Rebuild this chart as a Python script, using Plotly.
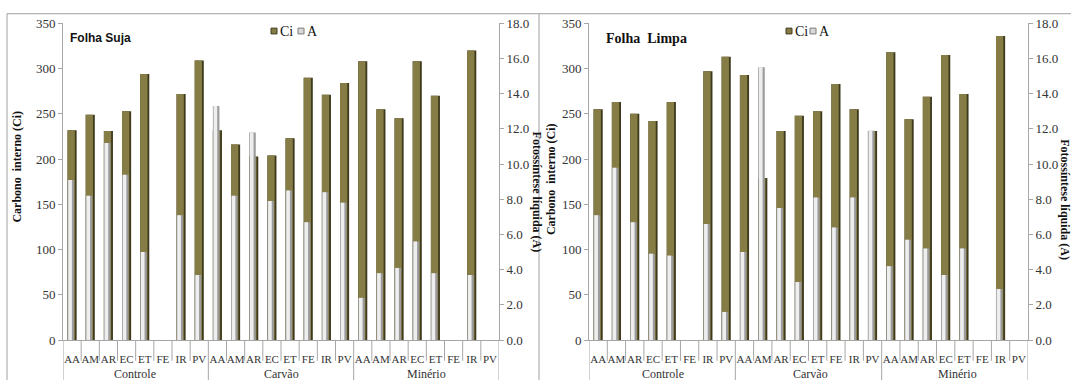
import plotly.graph_objects as go

W, H = 1071, 388

# ---- data -------------------------------------------------------------
groups = ["Controle", "Carvão", "Minério"]
codes = ["AA", "AM", "AR", "EC", "ET", "FE", "IR", "PV"]
series_names = ["Ci", "A"]

# Folha Suja: internal carbon (Ci) and net photosynthesis (A)
suja_ci = [232, 249, 231, 253, 294, None, 272, 309,
           232, 216, 203, 204, 223, 290, 271, 284,
           308, 255, 245, 308, 270, None, 320, None]
suja_a = [9.1, 8.2, 11.2, 9.4, 5.0, None, 7.1, 3.7,
          13.3, 8.2, 11.8, 7.9, 8.5, 6.7, 8.4, 7.8,
          2.4, 3.8, 4.1, 5.6, 3.8, None, 3.7, None]

# Folha Limpa
limpa_ci = [255, 263, 250, 242, 263, None, 297, 313,
            293, 179, 231, 248, 253, 283, 255, 231,
            318, 244, 269, 315, 272, None, 336, None]
limpa_a = [7.1, 9.8, 6.7, 4.9, 4.8, None, 6.6, 1.6,
           5.0, 15.5, 7.5, 3.3, 8.1, 6.4, 8.1, 11.9,
           4.2, 5.7, 5.2, 3.7, 5.2, None, 2.9, None]

ci_range = [0, 350]
a_range = [0, 18]

# ---- helpers ----------------------------------------------------------
def px(v):
    return v / W


def py(v):
    return 1 - v / H


SERIF = "Times New Roman, Liberation Serif, DejaVu Serif, serif"
AXIS_GREY = "#a6a6a6"
TXT = "#333333"
OLIVE_DARK = "#3e3a1c"
OLIVE = "#867c45"
GREY_DARK = "#9c9c9c"
GREY_LIGHT = "#eeeeee"

n_cat = len(groups) * len(codes)
xs = list(range(n_cat))
tick_text = codes * len(groups)

plot_top, plot_bottom = 17, 346.5
ydom = [py(plot_bottom), py(plot_top)]

panels = [
    dict(ci=suja_ci, a=suja_a, xa="x", yl="y", yr="y2",
         xdom=[px(63), px(499)], title="<b>Folha Suja</b>",
         title_font=dict(family="Liberation Sans, Arial, sans-serif", size=12, color="#111"),
         title_xy=(68, 32), key_x=[271, 298],
         ltitle_xy=(17, 166), rtitle_xy=(537, 192),
         group_x=[135, 281, 426]),
    dict(ci=limpa_ci, a=limpa_a, xa="x2", yl="y3", yr="y4",
         xdom=[px(589), px(1028)], title="<b>Folha  Limpa</b>",
         title_font=dict(family=SERIF, size=14, color="#111"),
         title_xy=(604, 33), key_x=[786, 810],
         ltitle_xy=(551, 179), rtitle_xy=(1065, 200),
         group_x=[663, 810, 957]),
]

fig = go.Figure()
annotations = []
shapes = []

for p in panels:
    common = dict(x=xs, xaxis=p["xa"], hoverinfo="skip", showlegend=False)
    # Ci bars: dark edge underneath, olive body on top
    fig.add_trace(go.Bar(y=p["ci"], yaxis=p["yl"], width=0.5, offset=-0.25,
                         marker=dict(color=OLIVE_DARK, line=dict(width=0)), **common))
    fig.add_trace(go.Bar(y=p["ci"], yaxis=p["yl"], width=0.4, offset=-0.25, name="Ci",
                         marker=dict(color=OLIVE, line=dict(width=0)), **common))
    # A bars on the secondary axis, drawn in front
    fig.add_trace(go.Bar(y=p["a"], yaxis=p["yr"], width=0.36, offset=-0.25, name="A",
                         marker=dict(color=GREY_DARK, line=dict(width=0)), **common))
    fig.add_trace(go.Bar(y=p["a"], yaxis=p["yr"], width=0.2, offset=-0.21,
                         marker=dict(color=GREY_LIGHT, line=dict(width=0)), **common))

    # series key: small swatch followed by the series name
    for kx, name, fill, edge in zip(p["key_x"], series_names,
                                    [OLIVE, "#d9d9d9"], [OLIVE_DARK, "#7a7a7a"]):
        shapes.append(dict(type="rect", xref="paper", yref="paper",
                           x0=px(kx), x1=px(kx + 6), y0=py(28), y1=py(22),
                           fillcolor=fill, line=dict(color=edge, width=1)))
        annotations.append(dict(text=name, x=px(kx + 7), y=py(25), xref="paper", yref="paper",
                                xanchor="left", yanchor="middle", showarrow=False,
                                font=dict(family=SERIF, size=14, color="#111")))

    # panel title
    annotations.append(dict(text=p["title"], x=px(p["title_xy"][0]), y=py(p["title_xy"][1]),
                            xref="paper", yref="paper", xanchor="left", yanchor="middle",
                            showarrow=False, font=p["title_font"]))
    # axis titles
    annotations.append(dict(text="<b>Carbono  interno (Ci)</b>", textangle=-90,
                            x=px(p["ltitle_xy"][0]), y=py(p["ltitle_xy"][1]),
                            xref="paper", yref="paper", xanchor="center", yanchor="middle",
                            showarrow=False, font=dict(family=SERIF, size=12, color="#111")))
    annotations.append(dict(text="<b>Fotossíntese líquida (A)</b>", textangle=90,
                            x=px(p["rtitle_xy"][0]), y=py(p["rtitle_xy"][1]),
                            xref="paper", yref="paper", xanchor="center", yanchor="middle",
                            showarrow=False, font=dict(family=SERIF, size=12, color="#111")))
    # group labels
    for gx, g in zip(p["group_x"], groups):
        annotations.append(dict(text=g, x=px(gx), y=py(382), xref="paper", yref="paper",
                                xanchor="center", yanchor="middle", showarrow=False,
                                font=dict(family=SERIF, size=12, color=TXT)))
    # category separators below the axis
    for k in range(n_cat + 1):
        long_line = k % len(codes) == 0
        shapes.append(dict(type="line", xref=p["xa"], yref="paper",
                           x0=k - 0.5, x1=k - 0.5, y0=py(plot_bottom),
                           y1=py(388 if long_line else 368),
                           line=dict(color=AXIS_GREY, width=1)))

# panel frames
frame = dict(color="#a0a0a0", width=1)
shapes += [
    dict(type="line", xref="paper", yref="paper", x0=px(7), x1=px(7), y0=py(7), y1=0, line=frame),
    dict(type="line", xref="paper", yref="paper", x0=px(7), x1=1, y0=py(7), y1=py(7), line=frame),
    dict(type="line", xref="paper", yref="paper", x0=px(539), x1=px(539), y0=py(7), y1=0, line=frame),
]

xaxis_common = dict(range=[-0.5, n_cat - 0.5], tickvals=xs, ticktext=tick_text,
                    tickangle=0, showline=True, linecolor=AXIS_GREY, linewidth=1, ticks="",
                    ticklabelstandoff=9,
                    showgrid=False, zeroline=False, fixedrange=True,
                    tickfont=dict(family=SERIF, size=11, color=TXT))
yl_common = dict(range=ci_range, dtick=50, showline=True, linecolor=AXIS_GREY, linewidth=1,
                 ticks="outside", ticklen=4, tickcolor=AXIS_GREY, showgrid=False,
                 zeroline=False, tickfont=dict(family=SERIF, size=13, color=TXT), domain=ydom)
yr_common = dict(range=a_range, dtick=2, tickformat=".1f", showline=True, linecolor=AXIS_GREY,
                 linewidth=1, ticks="outside", ticklen=4, tickcolor=AXIS_GREY, showgrid=False,
                 zeroline=False, side="right", tickfont=dict(family=SERIF, size=13, color=TXT))

fig.update_layout(
    width=W, height=H,
    margin=dict(l=0, r=0, t=0, b=0),
    paper_bgcolor="white", plot_bgcolor="rgba(0,0,0,0)",
    barmode="overlay",
    showlegend=False,
    xaxis=dict(domain=panels[0]["xdom"], anchor="y", **xaxis_common),
    yaxis=dict(anchor="x", **yl_common),
    yaxis2=dict(anchor="x", overlaying="y", **yr_common),
    xaxis2=dict(domain=panels[1]["xdom"], anchor="y3", **xaxis_common),
    yaxis3=dict(anchor="x2", **yl_common),
    yaxis4=dict(anchor="x2", overlaying="y3", **yr_common),
    annotations=annotations,
    shapes=shapes,
)

fig.write_html("out.html")
